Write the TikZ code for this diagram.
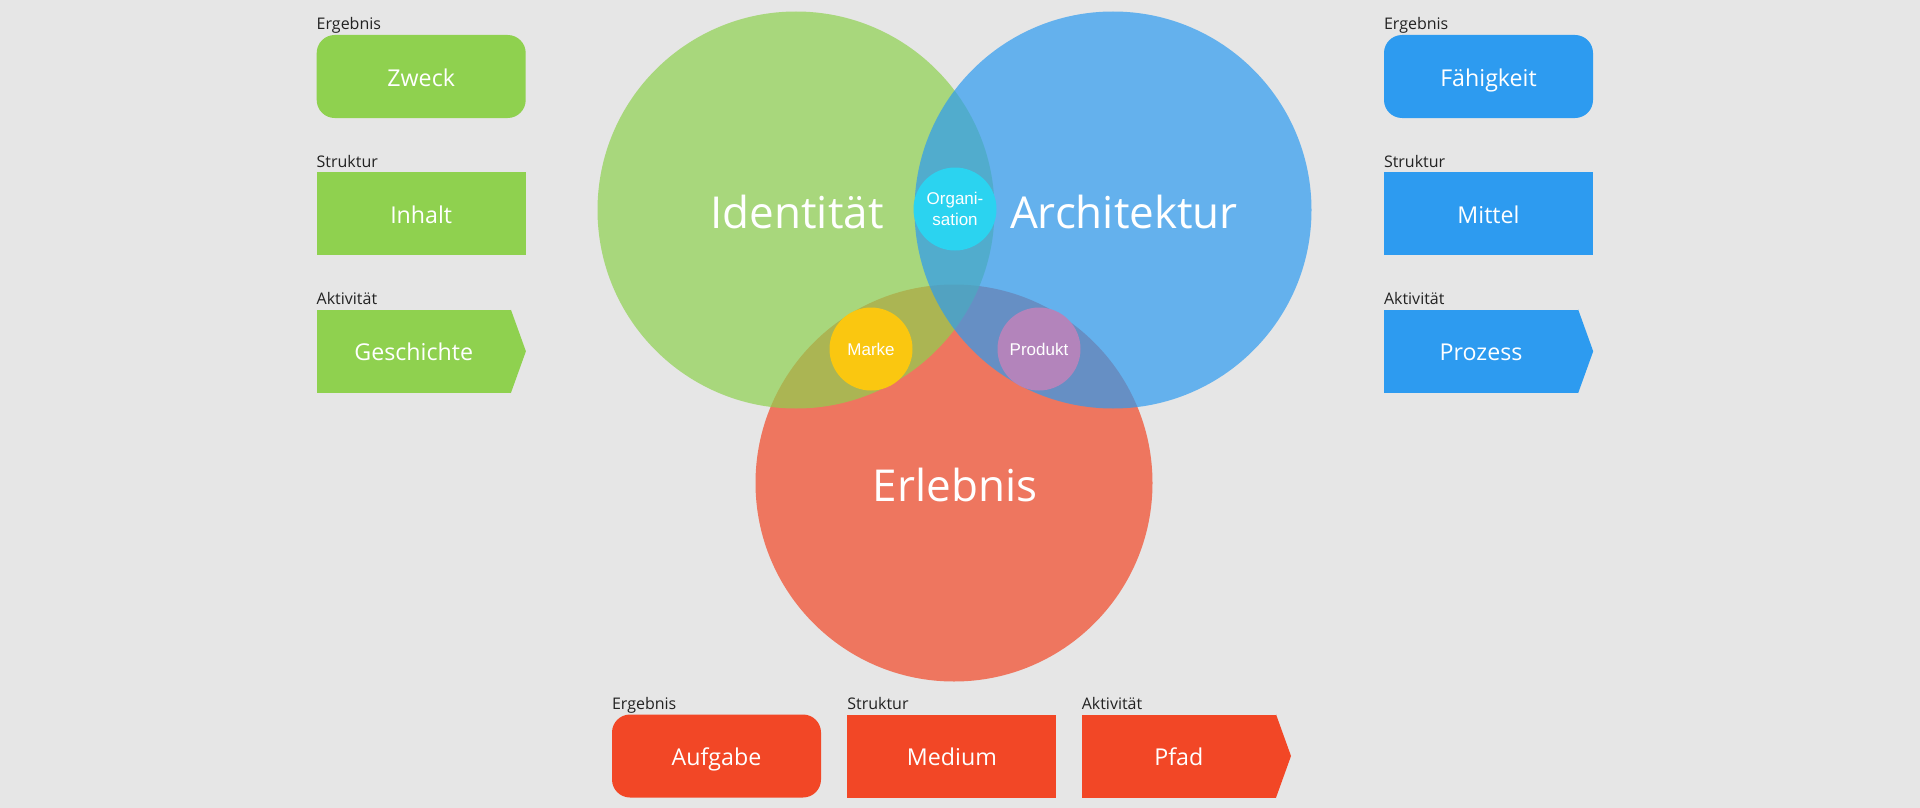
\documentclass[tikz,border=0pt]{standalone}
\usepackage{fontspec}
\setmainfont{Open Sans}
\newfontfamily\arialfont{Liberation Sans}
\usetikzlibrary{positioning}
\definecolor{gruen}{HTML}{8FD14F}
\definecolor{blau}{HTML}{2D9BF0}
\definecolor{rot}{HTML}{F24726}
\definecolor{tuerkis}{HTML}{2BD3F0}
\definecolor{gelb}{HTML}{FAC710}
\definecolor{lila}{HTML}{B384BB}
\definecolor{hintergrund}{HTML}{E6E6E6}
\definecolor{schrift}{HTML}{222222}

\begin{document}
\begin{tikzpicture}[x=1pt, y=-1pt, node distance=54pt,
      box/.style={rectangle, minimum width=209pt, minimum height=83pt,
                  inner sep=0pt, text height=24pt, text depth=5pt,
                  text=white, font=\fontsize{23.2}{27}\selectfont},
      ergebnisbox/.style={box, rounded corners=18pt},
      aktivbox/.style={box, minimum width=194pt},
      titel/.style={anchor=base west, inner sep=0pt, text=schrift,
                    font=\fontsize{16}{19}\selectfont},
      kreis/.style={circle, minimum size=397pt, inner sep=0pt, fill opacity=0.7,
                    text opacity=1, text=white, font=\fontsize{44}{50}\selectfont},
      punkt/.style={circle, minimum size=83pt, inner sep=0pt, text=white,
                    align=center, font=\arialfont\fontsize{17}{21}\selectfont}]
    \fill[hintergrund] (0,0) rectangle (1920,808);
    \useasboundingbox (0,0) rectangle (1920,808);
    \node[kreis, fill=rot] (erlebnis) at (954,483) {};
    \node[kreis, fill=gruen] (identitaet) at (796,210) {};
    \node[kreis, fill=blau] (architektur) at (1113,210) {};
    \node[text=white, font=\fontsize{44}{50}\selectfont] (erlebnis-text) at (955,485) {Erlebnis};
    \node[text=white, font=\fontsize{44}{50}\selectfont] (identitaet-text) at (797,212) {Identität};
    \node[text=white, font=\fontsize{44}{50}\selectfont] (architektur-text) at (1124,212) {Architektur};
    \node[punkt, fill=tuerkis] (organisation) at (955,209) {Organi-\\sation};
    \node[punkt, fill=gelb] (marke) at (871,349) {Marke};
    \node[punkt, fill=lila] (produkt) at (1039,349) {Produkt};

    \node[ergebnisbox, fill=gruen] (zweck) at (421.2,76.5) {Zweck};
    \node[box, fill=gruen, below=of zweck] (inhalt) {Inhalt};
    \node[aktivbox, fill=gruen, below=of inhalt.south west, anchor=north west] (geschichte) {Geschichte};
    \fill[gruen] (geschichte.north east) -- ([xshift=15pt]geschichte.east) -- (geschichte.south east) -- cycle;
    \node[titel] (zweck-titel) at ([yshift=5pt]zweck.north west) {Ergebnis};
    \node[titel] (inhalt-titel) at ([yshift=5pt]inhalt.north west) {Struktur};
    \node[titel] (geschichte-titel) at ([yshift=5pt]geschichte.north west) {Aktivität};

    \node[ergebnisbox, fill=blau] (faehigkeit) at (1488.5,76.5) {Fähigkeit};
    \node[box, fill=blau, below=of faehigkeit] (mittel) {Mittel};
    \node[aktivbox, fill=blau, below=of mittel.south west, anchor=north west] (prozess) {Prozess};
    \fill[blau] (prozess.north east) -- ([xshift=15pt]prozess.east) -- (prozess.south east) -- cycle;
    \node[titel] (faehigkeit-titel) at ([yshift=5pt]faehigkeit.north west) {Ergebnis};
    \node[titel] (mittel-titel) at ([yshift=5pt]mittel.north west) {Struktur};
    \node[titel] (prozess-titel) at ([yshift=5pt]prozess.north west) {Aktivität};

    \node[ergebnisbox, fill=rot] (aufgabe) at (716.5,756) {Aufgabe};
    \node[box, fill=rot, right=26pt of aufgabe] (medium) {Medium};
    \node[aktivbox, fill=rot, right=25pt of medium] (pfad) {Pfad};
    \fill[rot] (pfad.north east) -- ([xshift=15pt]pfad.east) -- (pfad.south east) -- cycle;
    \node[titel] (aufgabe-titel) at ([yshift=5pt]aufgabe.north west) {Ergebnis};
    \node[titel] (medium-titel) at ([yshift=5pt]medium.north west) {Struktur};
    \node[titel] (pfad-titel) at ([yshift=5pt]pfad.north west) {Aktivität};
  \end{tikzpicture}
\end{document}
